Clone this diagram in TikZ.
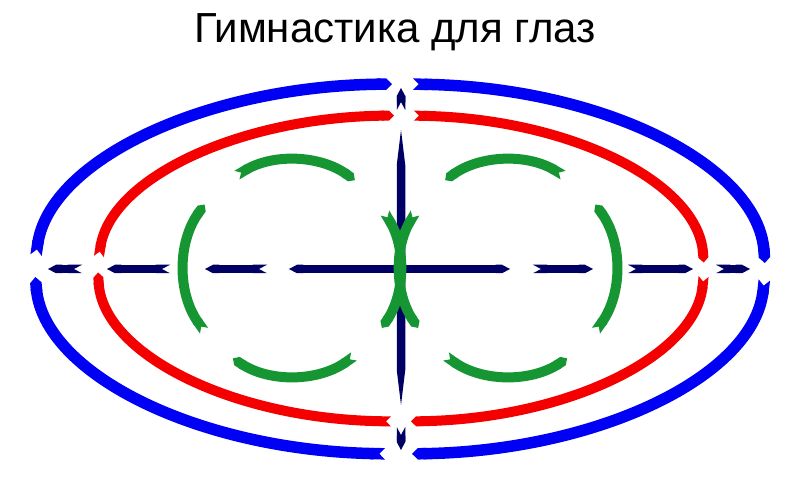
\documentclass[tikz,border=0pt]{standalone}
\usepackage{fontspec}
\setmainfont{Liberation Sans}
\usetikzlibrary{arrows.meta,calc}
\definecolor{cblue}{RGB}{0,0,245}
\definecolor{cred}{RGB}{245,0,0}
\definecolor{cgreen}{RGB}{22,150,50}
\definecolor{cnavy}{RGB}{0,0,100}
\begin{document}
\begin{tikzpicture}[x=1pt,y=1pt,
  bluering/.style={draw=cblue, line width=11.5pt, {Triangle Cap[reversed]}-{Triangle Cap}},
  redring/.style={draw=cred, line width=10pt, {Triangle Cap[reversed]}-{Triangle Cap}},
  greenring/.style={draw=cgreen, line width=10pt, {Triangle Cap[reversed]}-{Triangle Cap}},
  navydash/.style={draw=cnavy, line width=8.5pt, {Triangle Cap[reversed,length=8pt]}-{Triangle Cap[length=8pt]}},
  navydouble/.style={draw=cnavy, line width=8.5pt, {Triangle Cap[length=8pt]}-{Triangle Cap[length=8pt]}},
  titletext/.style={font=\fontsize{42}{50}\selectfont, anchor=base, inner sep=0pt}]
\useasboundingbox (0,0) rectangle (800,500);
\node[titletext] (title) at (395,457) {Гимнастика для глаз};
\coordinate (cb) at (400,231);
\coordinate (cr) at (401,231.5);
\coordinate (gl) at (292,232);
\coordinate (gr) at (508,232);
% blue ellipse
\foreach \s/\e in {175.7/91.26, 87.96/1.86, 356.6/271.9, 267.65/182.5}
  \draw[bluering] ($(cb)+(\s:365 and 185)$) arc[start angle=\s, end angle=\e, x radius=365, y radius=185];
% red ellipse
\foreach \s/\e in {175.5/91.32, 87.54/2.25, 357.0/271.9, 268.1/181.5}
  \draw[redring] ($(cr)+(\s:303 and 153)$) arc[start angle=\s, end angle=\e, x radius=303, y radius=153];
% navy horizontal
\coordinate (h1a) at (82,231); \coordinate (h1b) at (48,231);
\coordinate (h2a) at (170,231); \coordinate (h2b) at (107,231);
\coordinate (h3a) at (267,231); \coordinate (h3b) at (205,231);
\coordinate (h4a) at (289,231); \coordinate (h4b) at (510,231);
\coordinate (h5a) at (533,231); \coordinate (h5b) at (593,231);
\coordinate (h6a) at (628,231); \coordinate (h6b) at (693,231);
\coordinate (h7a) at (716,231); \coordinate (h7b) at (750,231);
\foreach \i in {1,2,3,5,6,7}
  \draw[navydash] (h\i a) -- (h\i b);
\draw[navydouble] (h4a) -- (h4b);
% navy vertical
\fill[cnavy] (401,370) -- (405.25,335) -- (405.25,130) -- (401,95) -- (396.75,130) -- (396.75,335) -- cycle;
\coordinate (v1a) at (401,390); \coordinate (v1b) at (401,412);
\coordinate (v2a) at (401,73); \coordinate (v2b) at (401,50);
\draw[navydash] (v1a) -- (v1b);
\draw[navydash] (v2a) -- (v2b);
% green circles
\foreach \s/\e in {120.7/54.4, 30.6/-33.7, 305/236.8, 215.5/144}
  \draw[greenring] ($(gl)+(\s:108)$) arc[start angle=\s, end angle=\e, radius=108];
\foreach \s/\e in {59.3/125.6, 149.4/213.7, 235/303.2, 324.5/396}
  \draw[greenring] ($(gr)+(\s:108)$) arc[start angle=\s, end angle=\e, radius=108];
\end{tikzpicture}
\end{document}
